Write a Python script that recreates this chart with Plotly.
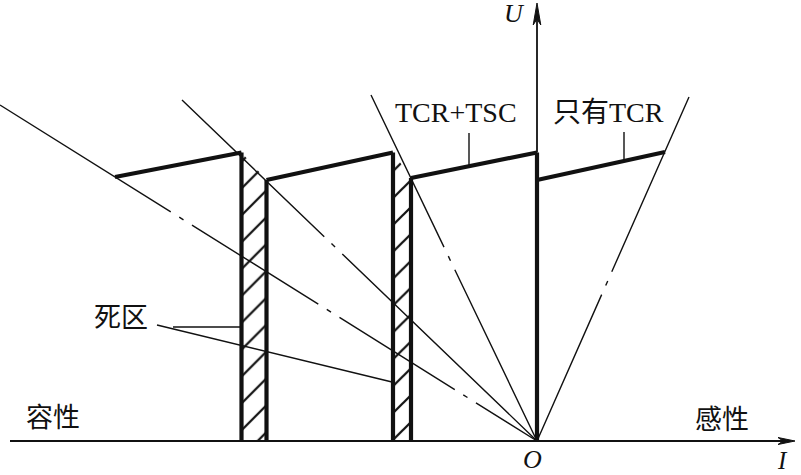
import plotly.graph_objects as go

# ---- geometry in the I-U plane (origin O), 1 unit = 1 screen pixel ----
# capacitive / inductive characteristic lines through O: outer end points
line_end_I = [-537, -355, -166, 152]
line_end_U = [336, 341, 346, 344]
# distances (from O, along each line) of the dash-dot breaks
line_gap_centres = [[84, 245, 419], [282], [202], [172]]

# thick operating segments (TCR control range for each TSC step)
seg_start_I = [-422, -270.5, -126, 0]
seg_start_U = [264, 261, 263, 261]
seg_end_I = [-295.5, -144, 0, 128]
seg_end_U = [288.5, 288.5, 288.5, 289]

# axes
axis_I = [-527, 258]
axis_U = [0, 438]

# label texts
label_tcr_tsc = "TCR+TSC"
label_tcr_only = "只有TCR"
label_dead = "死区"
label_cap = "容性"
label_ind = "感性"

THIN = 1.4
THICK = 4.2
BLACK = "#111111"
LATIN = "Liberation Serif, Times New Roman, serif"
MIXED = "Liberation Serif, Noto Sans CJK SC, serif"

fig = go.Figure()


def add_line(xs, ys, width=THIN, dash="solid"):
    fig.add_trace(go.Scatter(x=xs, y=ys, mode="lines",
                             line=dict(color=BLACK, width=width, dash=dash),
                             hoverinfo="skip", showlegend=False))


def dasharray(centres, total):
    gap, dot = 10, 5
    half = gap + dot / 2
    parts, pos = [], 0.0
    for c in centres:
        parts += [c - half - pos, gap, dot, gap]
        pos = c + half
    parts.append(max(total - pos, 0) + 80)
    return ",".join(f"{int(round(p))}px" for p in parts)


# dead zones (hatched)
for k in range(2):
    xl, xr = seg_end_I[k], seg_start_I[k + 1]
    fig.add_trace(go.Scatter(
        x=[xl, xl, xr, xr, xl], y=[0, seg_end_U[k], seg_start_U[k + 1], 0, 0],
        mode="lines", fill="toself", line=dict(width=0, color="rgba(0,0,0,0)"),
        fillcolor="rgba(0,0,0,0)",
        fillpattern=dict(shape="/", size=19, solidity=0.12,
                         fgcolor=BLACK, bgcolor="white", fgopacity=1),
        hoverinfo="skip", showlegend=False))

# characteristic lines through O
for xe, ye, gaps in zip(line_end_I, line_end_U, line_gap_centres):
    total = (xe ** 2 + ye ** 2) ** 0.5
    add_line([0, xe], [0, ye], THIN, dasharray(gaps, total))

# 死区 leader lines
add_line([-364, seg_end_I[0]], [114, 114])
add_line([-380, seg_end_I[1] - 1], [116, 59])

# label leaders to the thick segments
def seg_u(k, i):
    t = (i - seg_start_I[k]) / (seg_end_I[k] - seg_start_I[k])
    return seg_start_U[k] + t * (seg_end_U[k] - seg_start_U[k])

add_line([-68, -68], [seg_u(2, -68), 308])
add_line([87, 87], [seg_u(3, 87), 309])

# horizontal axis and thin upper part of the vertical axis
add_line([axis_I[0], axis_I[1] - 10], [0, 0], 2.0)
add_line([0, 0], [seg_end_U[2], axis_U[1] - 12], 1.8)

# thick segments
for xs, ys, xe, ye in zip(seg_start_I, seg_start_U, seg_end_I, seg_end_U):
    add_line([xs, xe], [ys, ye], THICK)

# thick verticals bounding the dead zones and at O
verticals = [(seg_end_I[0], seg_end_U[0]), (seg_start_I[1], seg_start_U[1]),
             (seg_end_I[1], seg_end_U[1]), (seg_start_I[2], seg_start_U[2]),
             (seg_end_I[2], seg_end_U[2])]
for vx, vy in verticals:
    add_line([vx, vx], [0, vy], THICK)

# arrowheads (narrow, notched)
def arrowhead(tip_x, tip_y, direction, length, half_w, notch):
    if direction == "right":
        xs = [tip_x, tip_x - length, tip_x - length + notch, tip_x - length, tip_x]
        ys = [tip_y, tip_y + half_w, tip_y, tip_y - half_w, tip_y]
    else:
        xs = [tip_x, tip_x - half_w, tip_x, tip_x + half_w, tip_x]
        ys = [tip_y, tip_y - length, tip_y - length + notch, tip_y - length, tip_y]
    fig.add_trace(go.Scatter(x=xs, y=ys, mode="lines", fill="toself",
                             fillcolor=BLACK, line=dict(color=BLACK, width=1),
                             hoverinfo="skip", showlegend=False))

arrowhead(axis_I[1], 0, "right", 17, 3.5, 5)
arrowhead(0, axis_U[1], "up", 22, 3.8, 6)

# texts
def text(x, y, s, size, family=MIXED):
    fig.add_annotation(x=x, y=y, xref="x", yref="y", text=s, showarrow=False,
                       font=dict(family=family, size=size, color=BLACK),
                       xanchor="center", yanchor="middle")

text(-81, 329, label_tcr_tsc, 28, LATIN)
text(71, 329, label_tcr_only, 28)
text(-416, 123, label_dead, 27)
text(-484, 23, label_cap, 27)
text(185, 21, label_ind, 27)
text(-23, 428, "<i>U</i>", 26, LATIN)
text(-5, -18, "<i>O</i>", 26, LATIN)
text(245, -19, "<i>I</i>", 25, LATIN)

fig.update_layout(
    width=801, height=475, margin=dict(l=0, r=0, t=0, b=0),
    paper_bgcolor="white", plot_bgcolor="white", showlegend=False,
    xaxis=dict(range=[-537, 264], visible=False, fixedrange=True),
    yaxis=dict(range=[-34, 441], visible=False, fixedrange=True),
)

fig.write_html("out.html",
               config={"displayModeBar": False, "staticPlot": True},
               post_script="document.body.style.margin='0px';"
                           "document.body.style.overflow='hidden';")
